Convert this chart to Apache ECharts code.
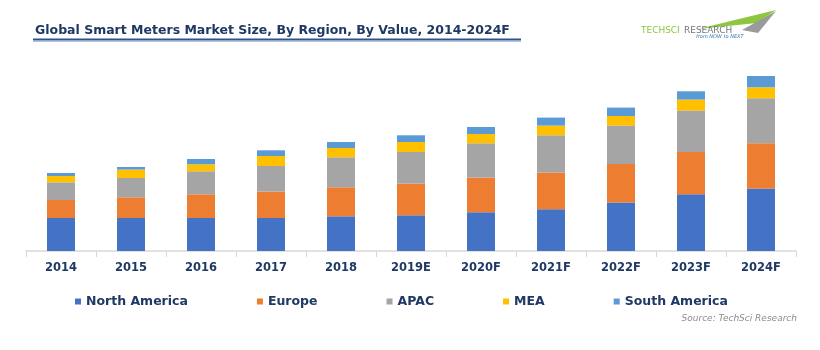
<!DOCTYPE html>
<html>
<head>
<meta charset="utf-8">
<script src="https://cdn.jsdelivr.net/npm/echarts@6/dist/echarts.min.js"></script>
<style>html,body{margin:0;padding:0;background:#fff;}#c{width:820px;height:350px;}</style>
</head>
<body>
<div id="c"></div>
<script>
var categories = ['2014','2015','2016','2017','2018','2019E','2020F','2021F','2022F','2023F','2024F'];
var northAmerica = [33, 33, 33, 33, 34.7, 35.7, 38.7, 41.7, 48.4, 56.7, 62.4];
var europe       = [18, 20.7, 23.7, 26.4, 29, 31.7, 34.7, 36.7, 38.6, 42.3, 45.3];
var apac         = [17.7, 19.3, 23, 25.6, 30, 31.6, 34.3, 37.3, 38.4, 41.4, 45];
var mea          = [6.3, 8.4, 7, 10, 9.3, 10, 9.3, 9.7, 9.6, 11, 11];
var southAmerica = [3, 2.6, 5.3, 5.7, 6, 6.7, 7, 8, 8.4, 8.3, 11.3];
var seriesNames = ['North America','Europe','APAC','MEA','South America'];
var seriesColors = ['#4472C4','#ED7D31','#A5A5A5','#FFC000','#5B9BD5'];
var seriesData = [northAmerica, europe, apac, mea, southAmerica];

var chart = echarts.init(document.getElementById('c'), null, {renderer:'canvas'});
var navy = '#1F3864';
var series = seriesNames.map(function(n, i){
  return {
    name: n, type: 'bar', stack: 'total', data: seriesData[i],
    barWidth: 28, itemStyle: {color: seriesColors[i]}, emphasis:{disabled:true}
  };
});
chart.setOption({
  animation: false,
  title: {
    text: 'Global Smart Meters Market Size, By Region, By Value, 2014-2024F',
    left: 30, top: 19,
    textStyle: {fontFamily: 'DejaVu Sans', fontWeight: 'bold', fontSize: 12.5, color: navy}
  },
  legend: {
    data: seriesNames, left: 70, top: 290,
    icon: 'rect', itemWidth: 6, itemHeight: 6, itemGap: 69,
    textStyle: {fontFamily: 'DejaVu Sans', fontWeight: 'bold', fontSize: 12.5, color: navy}
  },
  grid: {left: 26, right: 24, top: 59, bottom: 99, containLabel: false},
  xAxis: {
    type: 'category', data: categories,
    axisLine: {lineStyle: {color: '#D9D9D9', width: 1.5}},
    axisTick: {show: true, length: 6, lineStyle: {color: '#D9D9D9'}},
    axisLabel: {margin: 11, fontFamily: 'DejaVu Sans', fontWeight: 'bold', fontSize: 11.5, color: navy}
  },
  yAxis: {
    type: 'value', min: 0, max: 192, show: false, splitLine: {show: false}
  },
  graphic: [
    {type: 'line', shape: {x1: 33, y1: 39.5, x2: 521, y2: 39.5}, style: {stroke: '#2F528F', lineWidth: 2}},
    {type: 'line', shape: {x1: 33, y1: 41.5, x2: 521, y2: 41.5}, style: {stroke: '#B4C0D8', lineWidth: 1}},
    {type: 'polygon', shape: {points: [[698,29],[776,10],[757,23]]}, style: {fill: '#8DC63F'}},
    {type: 'polygon', shape: {points: [[742,30],[776,11],[758,33]]}, style: {fill: '#9A9A9A'}},
    {type: 'text', x: 641, y: 31, scaleX: 1.12, style: {text: 'TECHSCI', fill: '#8DC63F', font: '8px "DejaVu Sans"', verticalAlign: 'middle'}},
    {type: 'text', x: 684, y: 31, scaleX: 1.12, style: {text: 'RESEARCH', fill: '#777777', font: '8px "DejaVu Sans"', verticalAlign: 'middle'}},
    {type: 'text', x: 696, y: 36.5, style: {text: 'from NOW to NEXT', fill: '#2E75B6', font: 'italic 5px "DejaVu Sans"', verticalAlign: 'middle'}},
    {type: 'text', x: 797, y: 318.5, style: {text: 'Source: TechSci Research', fill: '#8C8C8C', font: 'italic 9px "DejaVu Sans"', align: 'right', verticalAlign: 'middle'}}
  ],
  series: series
});
</script>
</body>
</html>
